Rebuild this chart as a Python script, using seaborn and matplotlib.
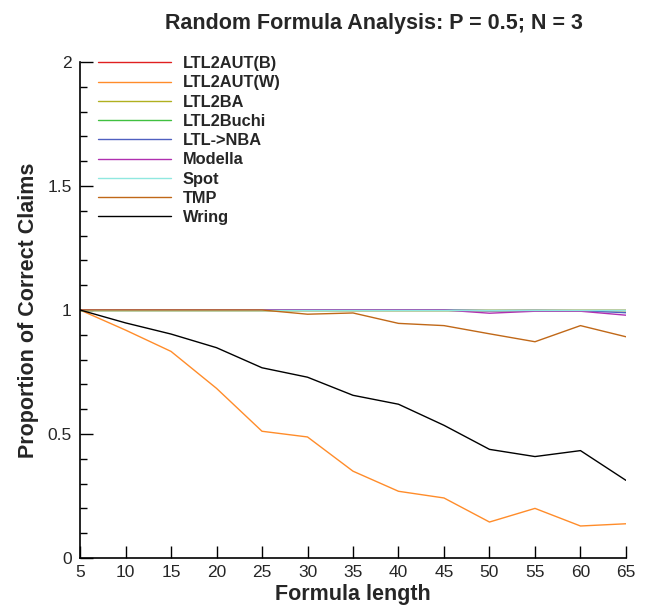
import seaborn as sns
import matplotlib.pyplot as plt
import pandas as pd
from matplotlib.ticker import MultipleLocator

lengths = [5, 10, 15, 20, 25, 30, 35, 40, 45, 50, 55, 60, 65]

ltl2aut_b = [1.0] * 13
ltl2aut_w = [1.0, 0.919, 0.833, 0.684, 0.511, 0.488, 0.350, 0.269, 0.242, 0.145, 0.200, 0.129, 0.138]
ltl2ba = [1.0] * 13
ltl2buchi = [1.0] * 13
ltl_nba = [1.0, 1.0, 1.0, 1.0, 1.0, 1.0, 1.0, 1.0, 1.0, 0.997, 0.998, 0.997, 0.989]
modella = [1.0, 1.0, 1.0, 1.0, 1.0, 1.0, 1.0, 1.0, 1.0, 0.987, 0.995, 0.995, 0.979]
spot = [1.0] * 13
tmp = [1.0, 1.0, 1.0, 1.0, 1.0, 0.983, 0.988, 0.946, 0.937, 0.904, 0.872, 0.937, 0.892]
wring = [1.0, 0.948, 0.903, 0.848, 0.767, 0.729, 0.656, 0.620, 0.535, 0.438, 0.409, 0.433, 0.313]

series = {
    "LTL2AUT(B)": ltl2aut_b,
    "LTL2AUT(W)": ltl2aut_w,
    "LTL2BA": ltl2ba,
    "LTL2Buchi": ltl2buchi,
    "LTL->NBA": ltl_nba,
    "Modella": modella,
    "Spot": spot,
    "TMP": tmp,
    "Wring": wring,
}
colors = {
    "LTL2AUT(B)": "#e02020",
    "LTL2AUT(W)": "#ff8c2a",
    "LTL2BA": "#b0b020",
    "LTL2Buchi": "#40c040",
    "LTL->NBA": "#5060c0",
    "Modella": "#b030b0",
    "Spot": "#90e8e0",
    "TMP": "#c06818",
    "Wring": "#000000",
}

rows = []
for name, vals in series.items():
    for x, y in zip(lengths, vals):
        rows.append({"length": x, "value": y, "tool": name})
df = pd.DataFrame(rows)

sns.set_style("ticks")
plt.rcParams["font.family"] = ["Liberation Sans", "DejaVu Sans"]

fig = plt.figure(figsize=(6.48, 6.15), dpi=100)
ax = fig.add_axes([0.1235, 0.0927, 0.8425, 0.8065])
sns.lineplot(data=df, x="length", y="value", hue="tool", palette=colors,
             hue_order=list(series.keys()), linewidth=1.0, ax=ax)

ax.set_xlim(5, 65)
ax.set_ylim(0, 2)
ax.set_xticks(lengths)
ax.set_yticks([0, 0.5, 1, 1.5, 2])
ax.set_yticklabels(["0", "0.5", "1", "1.5", "2"])
ax.yaxis.set_minor_locator(MultipleLocator(0.1))
ax.tick_params(direction="in", which="major", length=9, width=1, labelsize=12.5, color="black")
ax.tick_params(direction="in", which="minor", length=5, width=1, color="black")
ax.tick_params(axis="x", pad=5)
ax.tick_params(axis="y", pad=6)
sns.despine(ax=ax)
for s in ["left", "bottom"]:
    ax.spines[s].set_color("black")
    ax.spines[s].set_linewidth(1.2)

ax.set_xlabel("Formula length", fontsize=15.5, fontweight="bold", labelpad=3)
ax.set_ylabel("Proportion of Correct Claims", fontsize=15.5, fontweight="bold", labelpad=6)
ax.set_title("Random Formula Analysis: P = 0.5; N = 3", fontsize=15.5, fontweight="bold",
             x=0.538, pad=24)

leg = ax.legend(loc="upper left", bbox_to_anchor=(0.033, 1.012), frameon=False,
                borderpad=0, borderaxespad=0, handlelength=4.45, handletextpad=0.73,
                labelspacing=0.26, prop={"weight": "bold", "size": 11.8})
plt.savefig("out.png", dpi=100)
plt.close()
